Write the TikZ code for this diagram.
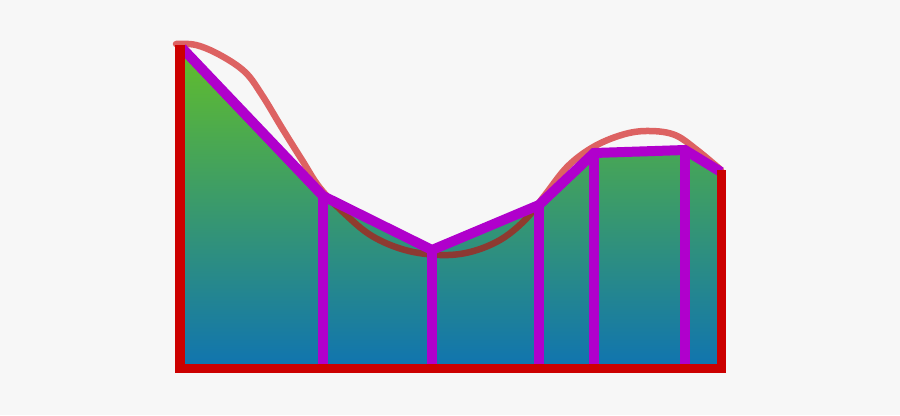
\documentclass[tikz,border=0pt]{standalone}
\usetikzlibrary{calc}
\definecolor{bgc}{HTML}{F7F7F7}
\definecolor{axisred}{HTML}{CC0000}
\definecolor{mag}{HTML}{B000CC}
\definecolor{topg}{RGB}{98,190,42}
\definecolor{botb}{RGB}{16,116,176}
\tikzset{
  axisline/.style={axisred, line width=9.5bp},
  seg/.style={mag, line width=10bp, line join=miter},
  curveline/.style={axisred, opacity=0.6, line width=6.5bp, line cap=round, line join=round},
}
\begin{document}
\begin{tikzpicture}[x=1bp,y=-1bp]
\fill[bgc] (0,0) rectangle (900,415);
\useasboundingbox (0,0) rectangle (900,415);
\coordinate (p0) at (182,48);
\coordinate (p1) at (323,196);
\coordinate (p2) at (432,250);
\coordinate (p3) at (539,205);
\coordinate (p4) at (594,153);
\coordinate (p5) at (685,150);
\coordinate (p6) at (721,172);
\coordinate (b0) at (182,368);
\coordinate (b6) at (721,368);
% gradient area
\shade[top color=topg, bottom color=botb] (p0) -- (p1) -- (p2) -- (p3) -- (p4) -- (p5) -- (p6) -- (b6) -- (b0) -- cycle;
% smooth curve
\draw[curveline] plot[smooth, tension=0.6] coordinates {(176,44) (196,45) (220,55) (245,72) (262,95) (282,128) (302,160) (320,188) (345,214) (372,236) (405,250) (440,255) (470,252) (500,240) (525,220) (545,195) (568,166) (595,146) (625,134) (650,131) (675,135) (697,150) (721,170)};
% verticals
\foreach \i in {1,...,5} {
  \draw[seg] (p\i) -- (p\i |- b0);
}
% polyline
\draw[seg] (p0) -- (p1) -- (p2) -- (p3) -- (p4) -- (p5) -- (p6);
% axes
\draw[axisline] (180,45) -- (180,372.5);
\draw[axisline] (175.5,368.5) -- (726,368.5);
\draw[axisline] (721.5,170) -- (721.5,372.5);
\end{tikzpicture}
\end{document}
